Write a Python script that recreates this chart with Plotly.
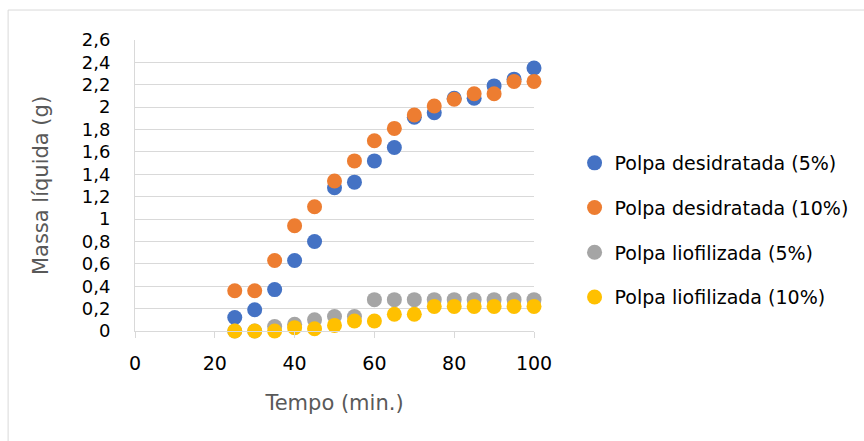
import plotly.graph_objects as go

tempo = [25, 30, 35, 40, 45, 50, 55, 60, 65, 70, 75, 80, 85, 90, 95, 100]
desid_5 = [0.12, 0.19, 0.37, 0.63, 0.80, 1.28, 1.33, 1.52, 1.64, 1.91, 1.95, 2.08, 2.08, 2.19, 2.25, 2.35]
desid_10 = [0.36, 0.36, 0.63, 0.94, 1.11, 1.34, 1.52, 1.70, 1.81, 1.93, 2.01, 2.07, 2.12, 2.12, 2.23, 2.23]
liof_5 = [0.0, 0.0, 0.04, 0.06, 0.10, 0.13, 0.13, 0.28, 0.28, 0.28, 0.28, 0.28, 0.28, 0.28, 0.28, 0.28]
liof_10 = [0.0, 0.0, 0.0, 0.03, 0.02, 0.05, 0.09, 0.09, 0.15, 0.15, 0.22, 0.22, 0.22, 0.22, 0.22, 0.22]

series = [
    ("Polpa desidratada (5%)", desid_5, "#4472C4"),
    ("Polpa desidratada (10%)", desid_10, "#ED7D31"),
    ("Polpa liofilizada (5%)", liof_5, "#A5A5A5"),
    ("Polpa liofilizada (10%)", liof_10, "#FFC000"),
]

y_ticks = [0, 0.2, 0.4, 0.6, 0.8, 1, 1.2, 1.4, 1.6, 1.8, 2, 2.2, 2.4, 2.6]
y_labels = ["0", "0,2", "0,4", "0,6", "0,8", "1", "1,2", "1,4", "1,6", "1,8", "2", "2,2", "2,4", "2,6"]
x_ticks = [0, 20, 40, 60, 80, 100]

FONT = "DejaVu Sans"

fig = go.Figure()
for name, vals, color in series:
    fig.add_trace(go.Scatter(
        x=tempo, y=vals, mode="markers", name=name, legendgroup=name,
        marker=dict(color=color, size=15, line=dict(width=0)),
        cliponaxis=False,
    ))

fig.update_layout(
    width=864, height=441,
    margin=dict(l=135, r=330, t=40, b=110, autoexpand=False),
    paper_bgcolor="white", plot_bgcolor="white",
    font=dict(family=FONT, color="#000000"),
    showlegend=True,
    legend=dict(
        xref="container", yref="container",
        x=0.665, y=0.6735, xanchor="left", yanchor="top",
        font=dict(family=FONT, size=19, color="#000000"),
        tracegroupgap=17, itemsizing="trace", bgcolor="rgba(0,0,0,0)",
    ),
    xaxis=dict(
        range=[0, 100], tickvals=x_ticks, ticktext=[str(v) for v in x_ticks],
        showgrid=False, zeroline=False,
        showline=True, linecolor="#D9D9D9", linewidth=1,
        ticks="outside", ticklen=6, tickcolor="#D9D9D9", tickwidth=1,
        ticklabelstandoff=9,
        tickfont=dict(family=FONT, size=19, color="#000000"),
        title=dict(text="Tempo (min.)", font=dict(family=FONT, size=21, color="#595959"), standoff=22),
    ),
    yaxis=dict(
        range=[0, 2.6], tickvals=y_ticks, ticktext=y_labels,
        showgrid=True, gridcolor="#D9D9D9", gridwidth=1, zeroline=False,
        showline=True, linecolor="#D9D9D9", linewidth=1,
        ticks="", ticklabelstandoff=20,
        tickfont=dict(family=FONT, size=18, color="#000000"),
        title=dict(text="Massa líquida (g)", font=dict(family=FONT, size=21, color="#595959"), standoff=27),
    ),
    shapes=[dict(
        type="rect", xref="paper", yref="paper",
        x0=-0.318, x1=1.842, y0=-0.409, y1=1.103,
        line=dict(color="#D9D9D9", width=1), fillcolor="rgba(0,0,0,0)", layer="below",
    )],
)

fig.write_html("out.html")
